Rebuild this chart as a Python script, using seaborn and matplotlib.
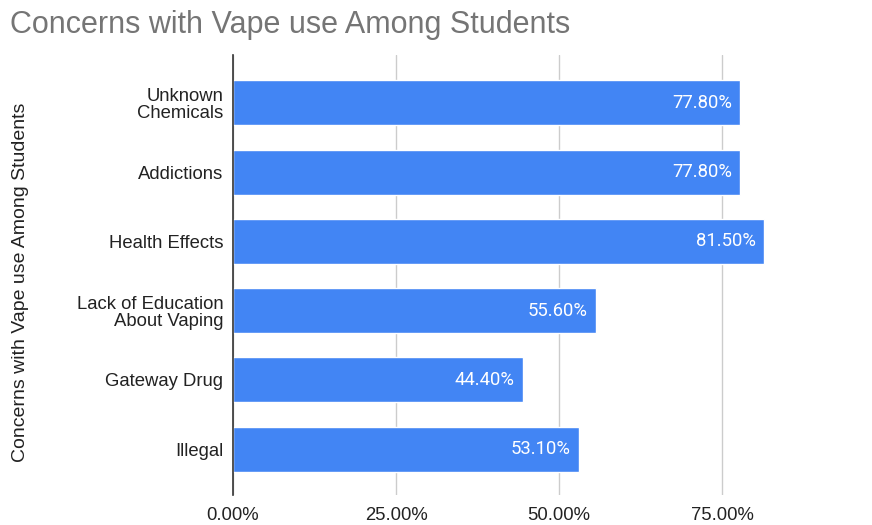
import matplotlib
matplotlib.use("Agg")
import matplotlib.pyplot as plt
import seaborn as sns
import pandas as pd
from matplotlib.ticker import FuncFormatter
from matplotlib.transforms import offset_copy

categories = ["Unknown\nChemicals", "Addictions", "Health Effects",
              "Lack of Education\nAbout Vaping", "Gateway Drug", "Illegal"]
values = [77.8, 77.8, 81.5, 55.6, 44.4, 53.1]
x_ticks = [0, 25, 50, 75]

df = pd.DataFrame({"concern": categories, "share": values})

sns.set_theme(style="white")
plt.rcParams["font.family"] = ["Liberation Sans", "DejaVu Sans"]

fig = plt.figure(figsize=(8.72, 5.25), dpi=100)
ax = fig.add_axes([233 / 872, 1 - 495 / 525, 1 - 233 / 872, 440 / 525])

sns.barplot(data=df, x="share", y="concern", orient="h", color="#4285F4",
            saturation=1, width=0.65, ax=ax, zorder=3)

ax.set_xlim(0, 98.0)
ax.set_ylim(5.66, -0.69)
ax.set_xticks(x_ticks)
ax.xaxis.set_major_formatter(FuncFormatter(lambda v, p: f"{v:.2f}%"))
ax.grid(axis="x", color="#cccccc", linewidth=1, zorder=0)
ax.grid(axis="y", visible=False)
for s in ["top", "right", "bottom"]:
    ax.spines[s].set_visible(False)
ax.spines["left"].set_color("#333333")
ax.spines["left"].set_linewidth(1.2)
ax.spines["left"].set_zorder(4)
ax.tick_params(axis="both", length=0, labelsize=13.3, labelcolor="#222222")
ax.tick_params(axis="x", pad=9)
ax.tick_params(axis="y", pad=7)
for lbl in ax.get_yticklabels():
    lbl.set_horizontalalignment("right")
    lbl.set_multialignment("right")
    lbl.set_linespacing(1.05)

ax.set_xlabel("")
ax.set_ylabel("")
fig.text(21 / 872, 1 - 282 / 525, "Concerns with Vape use Among Students",
         rotation=90, fontsize=14, color="#222222", ha="center", va="center")

# value labels inside the right end of each bar
label_tf = offset_copy(ax.transData, fig=fig, x=-6, y=0, units="points")
for patch, v in zip(ax.patches, values):
    yc = patch.get_y() + patch.get_height() / 2
    ax.text(patch.get_width(), yc, f"{v:.2f}%", transform=label_tf,
            ha="right", va="center", color="white", fontsize=13.3,
            family=["Roboto", "DejaVu Sans"], zorder=5)

fig.text(10 / 872, 1 - 33 / 525, "Concerns with Vape use Among Students",
         fontsize=22, color="#757575", va="baseline", ha="left")

fig.savefig("out.png", dpi=100)
